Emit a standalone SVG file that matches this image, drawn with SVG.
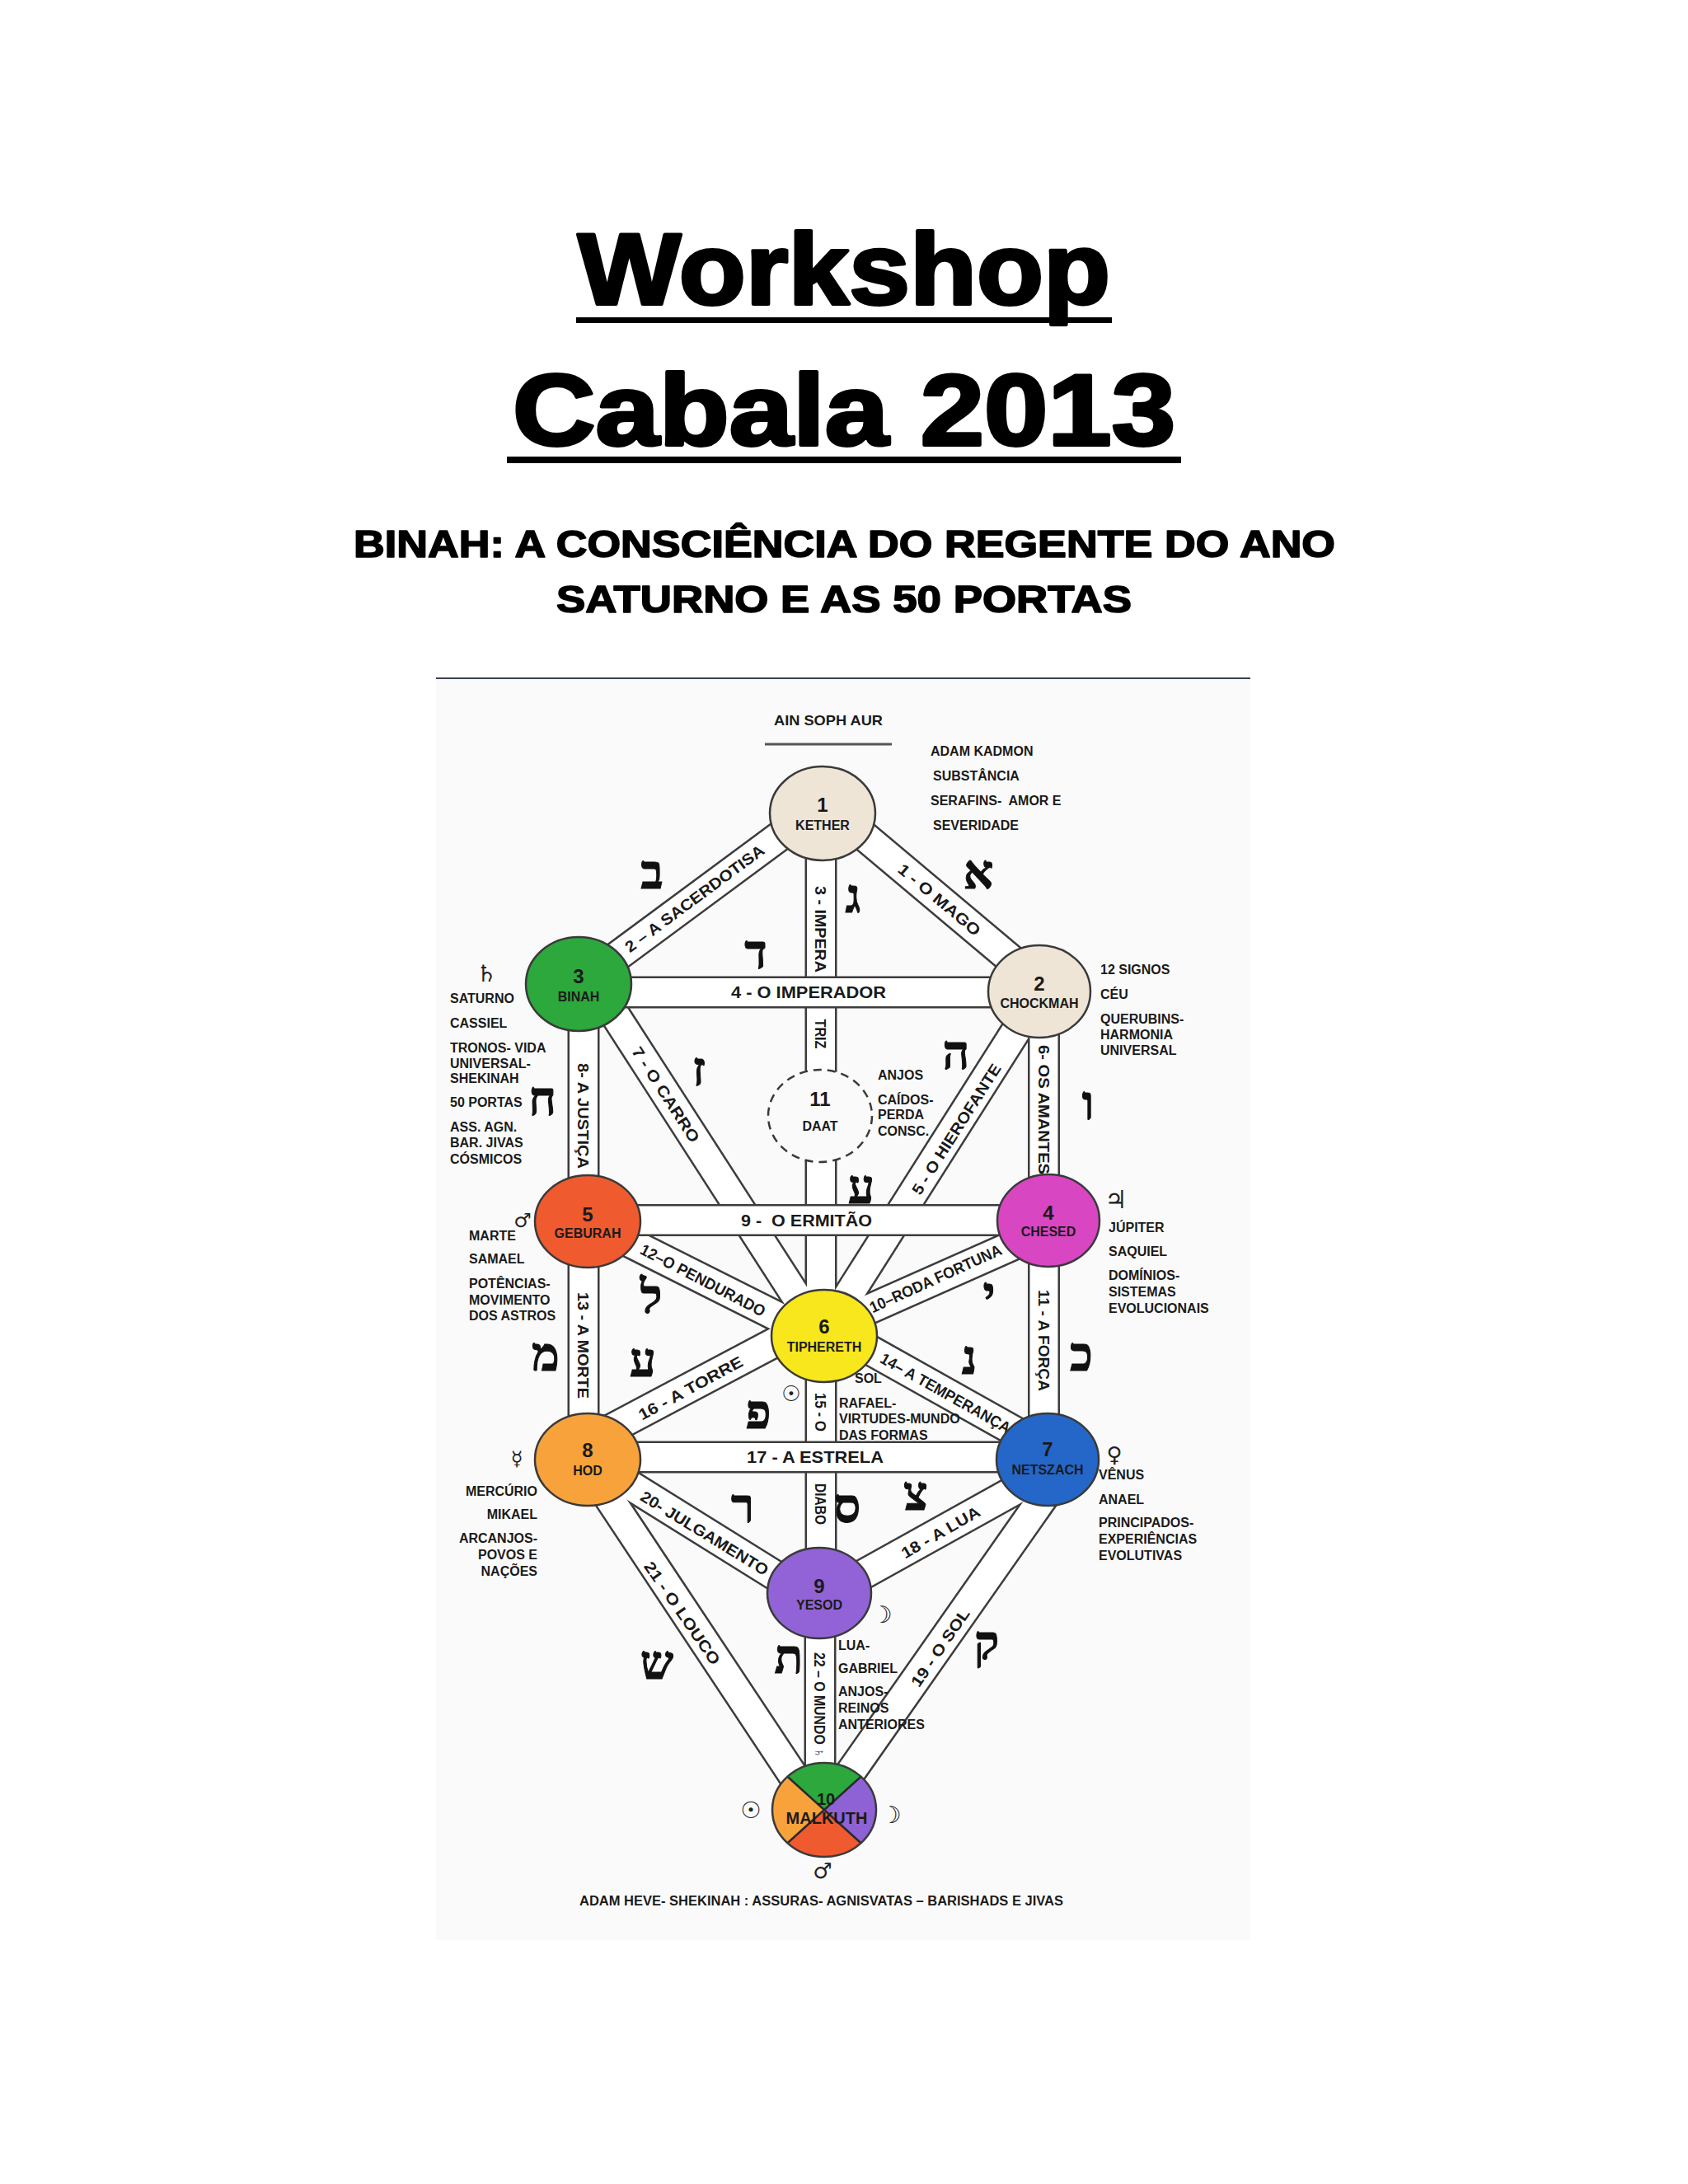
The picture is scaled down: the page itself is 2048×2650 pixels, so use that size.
<svg xmlns="http://www.w3.org/2000/svg" xmlns:xlink="http://www.w3.org/1999/xlink" width="2048" height="2650" viewBox="0 0 2048 2650">
<style>
.t{font-family:"Liberation Sans",Arial,sans-serif;font-weight:bold;fill:#1a1a1a}
.title{font-size:122px;text-anchor:middle;fill:#000;stroke:#000;stroke-width:4;stroke-linejoin:round}
.sub{font-size:46px;text-anchor:middle;fill:#000;stroke:#000;stroke-width:1.6;stroke-linejoin:round}
.side{font-size:16px}
.end{text-anchor:end}
.num{font-size:24px;text-anchor:middle}
.nm{font-size:16px;text-anchor:middle}
.pl{font-size:19px;text-anchor:middle}
.ph{font-size:20px;text-anchor:middle}
.heb{font-family:"Liberation Serif","DejaVu Sans",serif;font-weight:bold;font-size:57px;text-anchor:middle;fill:#111;stroke:#111;stroke-width:1}
.sym{font-family:"DejaVu Sans",sans-serif;text-anchor:middle;fill:#222}
.bo{stroke:#3c3c3c;stroke-width:39;fill:none}
.bi{stroke:#fff;stroke-width:34;fill:none}
.node{stroke:#3a3a3a;stroke-width:2.5}
</style>
<defs>
<line id="b1" x1="998" y1="972" x2="1261" y2="1193"/>
<line id="b2" x1="702" y1="1195" x2="998" y2="976"/>
<line id="b3" x1="996" y1="987" x2="996" y2="1621"/>
<line id="b4" x1="702" y1="1204" x2="1261" y2="1204"/>
<line id="b5" x1="1263" y1="1203" x2="998" y2="1621"/>
<line id="b6" x1="1266.5" y1="1203" x2="1266.5" y2="1481"/>
<line id="b7" x1="722" y1="1194" x2="997" y2="1621"/>
<line id="b8" x1="708" y1="1194" x2="708" y2="1482"/>
<line id="b9" x1="713" y1="1480.5" x2="1272" y2="1480.5"/>
<line id="b10" x1="997" y1="1614" x2="1272" y2="1492"/>
<line id="b11" x1="1266.5" y1="1481" x2="1266.5" y2="1771"/>
<line id="b12" x1="713" y1="1482" x2="1000" y2="1626"/>
<line id="b13" x1="708" y1="1482" x2="708" y2="1771"/>
<line id="b14" x1="1000" y1="1607" x2="1271" y2="1759"/>
<line id="b15" x1="996" y1="1621" x2="996" y2="1933"/>
<line id="b16" x1="713" y1="1749" x2="1000" y2="1597"/>
<line id="b17" x1="713" y1="1768" x2="1271" y2="1768"/>
<line id="b18" x1="994" y1="1940" x2="1271" y2="1786"/>
<line id="b19" x1="1298" y1="1771" x2="1000" y2="2196"/>
<line id="b20" x1="713" y1="1770" x2="994" y2="1945"/>
<line id="b21" x1="708" y1="1771" x2="990" y2="2196"/>
<line id="b22" x1="995" y1="1933" x2="995" y2="2196"/>
</defs>
<rect x="0" y="0" width="2048" height="2650" fill="#fff"/>

<g id="title">
<text class="t title" x="1024" y="369" textLength="646" lengthAdjust="spacingAndGlyphs">Workshop</text>
<rect x="699" y="385" width="650" height="7" fill="#000"/>
<text class="t title" x="1024" y="540" textLength="804" lengthAdjust="spacingAndGlyphs">Cabala 2013</text>
<rect x="615" y="554" width="818" height="8" fill="#000"/>
<text class="t sub" x="1024.5" y="676" textLength="1191" lengthAdjust="spacingAndGlyphs">BINAH: A CONSCIÊNCIA DO REGENTE DO ANO</text>
<text class="t sub" x="1024" y="743" textLength="698" lengthAdjust="spacingAndGlyphs">SATURNO E AS 50 PORTAS</text>
</g>

<g id="diagram-frame">
<rect x="529" y="823" width="988" height="1531" fill="#fafafa"/>
<line x1="529" y1="823" x2="1517" y2="823" stroke="#3b4150" stroke-width="2"/>
<text class="t" x="1005" y="880" font-size="17" text-anchor="middle" textLength="132" lengthAdjust="spacingAndGlyphs">AIN SOPH AUR</text>
<line x1="928" y1="903" x2="1082" y2="903" stroke="#555" stroke-width="3"/>
</g>

<g id="connectors">
<use xlink:href="#b1" class="bo"/><use xlink:href="#b2" class="bo"/><use xlink:href="#b3" class="bo"/>
<use xlink:href="#b5" class="bo"/><use xlink:href="#b6" class="bo"/><use xlink:href="#b7" class="bo"/>
<use xlink:href="#b8" class="bo"/><use xlink:href="#b10" class="bo"/><use xlink:href="#b11" class="bo"/>
<use xlink:href="#b12" class="bo"/><use xlink:href="#b13" class="bo"/><use xlink:href="#b14" class="bo"/>
<use xlink:href="#b15" class="bo"/><use xlink:href="#b16" class="bo"/><use xlink:href="#b18" class="bo"/>
<use xlink:href="#b19" class="bo"/><use xlink:href="#b20" class="bo"/><use xlink:href="#b21" class="bo"/>
<use xlink:href="#b22" class="bo"/>
<use xlink:href="#b1" class="bi"/><use xlink:href="#b2" class="bi"/><use xlink:href="#b3" class="bi"/>
<use xlink:href="#b5" class="bi"/><use xlink:href="#b6" class="bi"/><use xlink:href="#b7" class="bi"/>
<use xlink:href="#b8" class="bi"/><use xlink:href="#b10" class="bi"/><use xlink:href="#b11" class="bi"/>
<use xlink:href="#b12" class="bi"/><use xlink:href="#b13" class="bi"/><use xlink:href="#b14" class="bi"/>
<use xlink:href="#b15" class="bi"/><use xlink:href="#b16" class="bi"/><use xlink:href="#b18" class="bi"/>
<use xlink:href="#b19" class="bi"/><use xlink:href="#b20" class="bi"/><use xlink:href="#b21" class="bi"/>
<use xlink:href="#b22" class="bi"/>
<use xlink:href="#b4" class="bo"/><use xlink:href="#b4" class="bi"/>
<use xlink:href="#b9" class="bo"/><use xlink:href="#b9" class="bi"/>
<use xlink:href="#b17" class="bo"/><use xlink:href="#b17" class="bi"/>
</g>

<g id="path-labels">
<text class="t pl" transform="translate(1140 1091.5) rotate(40)" y="7" textLength="124" lengthAdjust="spacingAndGlyphs">1 - O MAGO</text>
<text class="t pl" transform="translate(842.5 1090) rotate(-36.5)" y="7" textLength="205" lengthAdjust="spacingAndGlyphs">2 – A SACERDOTISA</text>
<text class="t pl" transform="translate(996 1127.5) rotate(90)" y="7" textLength="105" lengthAdjust="spacingAndGlyphs">3 - IMPERA</text>
<text class="t pl" transform="translate(996 1254.5) rotate(90)" y="7" textLength="36" lengthAdjust="spacingAndGlyphs">TRIZ</text>
<text class="t ph" x="981" y="1211" textLength="188" lengthAdjust="spacingAndGlyphs">4 - O IMPERADOR</text>
<text class="t pl" transform="translate(1160 1370) rotate(-57.5)" y="7" textLength="184" lengthAdjust="spacingAndGlyphs">5 - O HIEROFANTE</text>
<text class="t pl" transform="translate(1266.5 1346.5) rotate(90)" y="7" textLength="157" lengthAdjust="spacingAndGlyphs">6- OS AMANTES</text>
<text class="t pl" transform="translate(808 1328) rotate(57)" y="7" textLength="134" lengthAdjust="spacingAndGlyphs">7 - O CARRO</text>
<text class="t pl" transform="translate(708 1354) rotate(90)" y="7" textLength="128" lengthAdjust="spacingAndGlyphs">8- A JUSTIÇA</text>
<text class="t ph" x="978.5" y="1488" textLength="159" lengthAdjust="spacingAndGlyphs">9 - &#160;O ERMITÃO</text>
<text class="t pl" transform="translate(1135 1551) rotate(-24.5)" y="7" textLength="174" lengthAdjust="spacingAndGlyphs">10–RODA FORTUNA</text>
<text class="t pl" transform="translate(1266.5 1626.5) rotate(90)" y="7" textLength="123" lengthAdjust="spacingAndGlyphs">11 - A FORÇA</text>
<text class="t pl" transform="translate(853 1553) rotate(27.5)" y="7" textLength="168" lengthAdjust="spacingAndGlyphs">12–O PENDURADO</text>
<text class="t pl" transform="translate(708 1632.5) rotate(90)" y="7" textLength="129" lengthAdjust="spacingAndGlyphs">13 - A MORTE</text>
<text class="t pl" transform="translate(1147.5 1690) rotate(29.4)" y="7" textLength="178" lengthAdjust="spacingAndGlyphs">14– A TEMPERANÇA</text>
<text class="t pl" transform="translate(996 1713.5) rotate(90)" y="7" textLength="47" lengthAdjust="spacingAndGlyphs">15 - O</text>
<text class="t pl" transform="translate(996 1825) rotate(90)" y="7" textLength="50" lengthAdjust="spacingAndGlyphs">DIABO</text>
<text class="t pl" transform="translate(837.5 1684) rotate(-28.5)" y="7" textLength="141" lengthAdjust="spacingAndGlyphs">16 - A TORRE</text>
<text class="t ph" x="989" y="1775" textLength="166" lengthAdjust="spacingAndGlyphs">17 - A ESTRELA</text>
<text class="t pl" transform="translate(1141 1859) rotate(-30)" y="7" textLength="107" lengthAdjust="spacingAndGlyphs">18 - A LUA</text>
<text class="t pl" transform="translate(1140.5 1999) rotate(-55.5)" y="7" textLength="110" lengthAdjust="spacingAndGlyphs">19 - O SOL</text>
<text class="t pl" transform="translate(855 1860) rotate(31.5)" y="7" textLength="178" lengthAdjust="spacingAndGlyphs">20- JULGAMENTO</text>
<text class="t pl" transform="translate(828 1957) rotate(55.5)" y="7" textLength="147" lengthAdjust="spacingAndGlyphs">21 - O LOUCO</text>
<text class="t pl" transform="translate(995 2069) rotate(90)" y="7" textLength="128" lengthAdjust="spacingAndGlyphs">22 – O MUNDO ♄</text>
</g>

<g id="hebrew-letters">
<text class="heb" x="791" y="1078">ב</text>
<text class="heb" x="1035" y="1107">ג</text>
<text class="heb" x="1187" y="1078">א</text>
<text class="heb" x="917" y="1175">ד</text>
<text class="heb" x="848" y="1317">ז</text>
<text class="heb" x="658" y="1353">ח</text>
<text class="heb" x="1160" y="1297">ה</text>
<text class="heb" x="1320" y="1358">ו</text>
<text class="heb" x="1045" y="1460">ע</text>
<text class="heb" x="1200" y="1590">י</text>
<text class="heb" x="790" y="1593">ל</text>
<text class="heb" x="662" y="1663">מ</text>
<text class="heb" x="1176" y="1667">נ</text>
<text class="heb" x="1312" y="1663">כ</text>
<text class="heb" x="780" y="1670">ע</text>
<text class="heb" x="920" y="1733">פ</text>
<text class="heb" x="901" y="1847">ר</text>
<text class="heb" x="1028" y="1847">ס</text>
<text class="heb" x="1111" y="1832">צ</text>
<text class="heb" x="797" y="2037">ש</text>
<text class="heb" x="957" y="2030">ת</text>
<text class="heb" x="1197" y="2013">ק</text>
</g>

<g id="node-kether">
<ellipse class="node" cx="998" cy="987" rx="64" ry="57" fill="#eee5d6"/>
<text class="t num" x="998" y="985">1</text>
<text class="t nm" x="998" y="1007">KETHER</text>
<text class="t side" x="1129" y="917" font-size="15">ADAM KADMON</text>
<text class="t side" x="1132" y="947" font-size="15">SUBSTÂNCIA</text>
<text class="t side" x="1129" y="977" font-size="15" xml:space="preserve">SERAFINS-  AMOR E</text>
<text class="t side" x="1132" y="1007" font-size="15">SEVERIDADE</text>
</g>

<g id="node-chockmah">
<ellipse class="node" cx="1261" cy="1203" rx="62" ry="56" fill="#eee5d6"/>
<text class="t num" x="1261" y="1202">2</text>
<text class="t nm" x="1261" y="1223">CHOCKMAH</text>
<text class="t side" x="1335" y="1182">12 SIGNOS</text>
<text class="t side" x="1335" y="1212">CÉU</text>
<text class="t side" x="1335" y="1242">QUERUBINS-</text>
<text class="t side" x="1335" y="1261">HARMONIA</text>
<text class="t side" x="1335" y="1280">UNIVERSAL</text>
</g>

<g id="node-binah">
<ellipse class="node" cx="702" cy="1194" rx="64" ry="57" fill="#2ca83c"/>
<text class="t num" x="702" y="1193">3</text>
<text class="t nm" x="702" y="1215">BINAH</text>
<text class="sym" x="590" y="1191" font-size="28">♄</text>
<text class="t side" x="546" y="1217">SATURNO</text>
<text class="t side" x="546" y="1247">CASSIEL</text>
<text class="t side" x="546" y="1277">TRONOS- VIDA</text>
<text class="t side" x="546" y="1296">UNIVERSAL-</text>
<text class="t side" x="546" y="1314">SHEKINAH</text>
<text class="t side" x="546" y="1343">50 PORTAS</text>
<text class="t side" x="546" y="1373">ASS. AGN.</text>
<text class="t side" x="546" y="1392">BAR. JIVAS</text>
<text class="t side" x="546" y="1412">CÓSMICOS</text>
</g>

<g id="node-daat">
<ellipse cx="995" cy="1354" rx="63" ry="56" fill="#fafafa" stroke="#3a3a3a" stroke-width="2.5" stroke-dasharray="10 7"/>
<text class="t num" x="995" y="1342">11</text>
<text class="t nm" x="995" y="1372">DAAT</text>
<text class="t side" x="1065" y="1310">ANJOS</text>
<text class="t side" x="1065" y="1340">CAÍDOS-</text>
<text class="t side" x="1065" y="1358">PERDA</text>
<text class="t side" x="1065" y="1378">CONSC.</text>
</g>

<g id="node-geburah">
<ellipse class="node" cx="713" cy="1482" rx="64" ry="56" fill="#ef5a2e"/>
<text class="t num" x="713" y="1482">5</text>
<text class="t nm" x="713" y="1502">GEBURAH</text>
<text class="sym" x="634" y="1489" font-size="24">♂</text>
<text class="t side" x="569" y="1505">MARTE</text>
<text class="t side" x="569" y="1533">SAMAEL</text>
<text class="t side" x="569" y="1563">POTÊNCIAS-</text>
<text class="t side" x="569" y="1583">MOVIMENTO</text>
<text class="t side" x="569" y="1602">DOS ASTROS</text>
</g>

<g id="node-chesed">
<ellipse class="node" cx="1272" cy="1481" rx="62" ry="56" fill="#d846c2"/>
<text class="t num" x="1272" y="1480">4</text>
<text class="t nm" x="1272" y="1500">CHESED</text>
<text class="sym" x="1354" y="1466" font-size="30">♃</text>
<text class="t side" x="1345" y="1495">JÚPITER</text>
<text class="t side" x="1345" y="1524">SAQUIEL</text>
<text class="t side" x="1345" y="1553">DOMÍNIOS-</text>
<text class="t side" x="1345" y="1573">SISTEMAS</text>
<text class="t side" x="1345" y="1593">EVOLUCIONAIS</text>
</g>

<g id="node-tiphereth">
<ellipse class="node" cx="1000" cy="1621" rx="64" ry="56" fill="#f8e71c"/>
<text class="t num" x="1000" y="1618">6</text>
<text class="t nm" x="1000" y="1640">TIPHERETH</text>
<text class="sym" x="960" y="1700" font-size="26">☉</text>
<text class="t side" x="1037" y="1678">SOL</text>
<text class="t side" x="1018" y="1708">RAFAEL-</text>
<text class="t side" x="1018" y="1727">VIRTUDES-MUNDO</text>
<text class="t side" x="1018" y="1747">DAS FORMAS</text>
</g>

<g id="node-hod">
<ellipse class="node" cx="713" cy="1771" rx="64" ry="56" fill="#f7a23b"/>
<text class="t num" x="713" y="1768">8</text>
<text class="t nm" x="713" y="1790">HOD</text>
<text class="sym" x="627" y="1778" font-size="24">☿</text>
<text class="t side end" x="652" y="1815">MERCÚRIO</text>
<text class="t side end" x="652" y="1843">MIKAEL</text>
<text class="t side end" x="652" y="1872">ARCANJOS-</text>
<text class="t side end" x="652" y="1892">POVOS E</text>
<text class="t side end" x="652" y="1912">NAÇÕES</text>
</g>

<g id="node-netszach">
<ellipse class="node" cx="1271" cy="1771" rx="62" ry="56" fill="#2467c8"/>
<text class="t num" x="1271" y="1767">7</text>
<text class="t nm" x="1271" y="1789">NETSZACH</text>
<text class="sym" x="1352" y="1774" font-size="26">♀</text>
<text class="t side" x="1333" y="1795">VÊNUS</text>
<text class="t side" x="1333" y="1825">ANAEL</text>
<text class="t side" x="1333" y="1853">PRINCIPADOS-</text>
<text class="t side" x="1333" y="1873">EXPERIÊNCIAS</text>
<text class="t side" x="1333" y="1893">EVOLUTIVAS</text>
</g>

<g id="node-yesod">
<ellipse class="node" cx="994" cy="1933" rx="63" ry="55" fill="#9163d6"/>
<text class="t num" x="994" y="1933">9</text>
<text class="t nm" x="994" y="1953">YESOD</text>
<text class="sym" x="1070" y="1969" font-size="28">☽</text>
<text class="t side" x="1017" y="2002">LUA-</text>
<text class="t side" x="1017" y="2030">GABRIEL</text>
<text class="t side" x="1017" y="2058">ANJOS-</text>
<text class="t side" x="1017" y="2078">REINOS</text>
<text class="t side" x="1017" y="2098">ANTERIORES</text>
</g>

<g id="node-malkuth">
<path d="M1000,2196 L955.5,2155.7 A63,57 0 0 1 1044.5,2155.7 Z" fill="#2ca83c"/>
<path d="M1000,2196 L1044.5,2155.7 A63,57 0 0 1 1044.5,2236.3 Z" fill="#8e62d4"/>
<path d="M1000,2196 L1044.5,2236.3 A63,57 0 0 1 955.5,2236.3 Z" fill="#ef5a2e"/>
<path d="M1000,2196 L955.5,2236.3 A63,57 0 0 1 955.5,2155.7 Z" fill="#f7a23b"/>
<path d="M955.5,2155.7 L1044.5,2236.3 M1044.5,2155.7 L955.5,2236.3" stroke="#2a2a2a" stroke-width="2.5" fill="none"/>
<ellipse class="node" cx="1000" cy="2196" rx="63" ry="57" fill="none"/>
<text class="t" x="1002" y="2190" font-size="20" text-anchor="middle">10</text>
<text class="t" x="1003" y="2213" font-size="20" text-anchor="middle">MALKUTH</text>
<text class="sym" x="911" y="2206" font-size="28">☉</text>
<text class="sym" x="1081" y="2212" font-size="28">☽</text>
<text class="sym" x="998" y="2279" font-size="26">♂</text>
</g>

<g id="footer">
<text class="t" x="996.5" y="2312" font-size="16" text-anchor="middle" textLength="587" lengthAdjust="spacingAndGlyphs">ADAM HEVE- SHEKINAH : ASSURAS- AGNISVATAS – BARISHADS E JIVAS</text>
</g>
</svg>
